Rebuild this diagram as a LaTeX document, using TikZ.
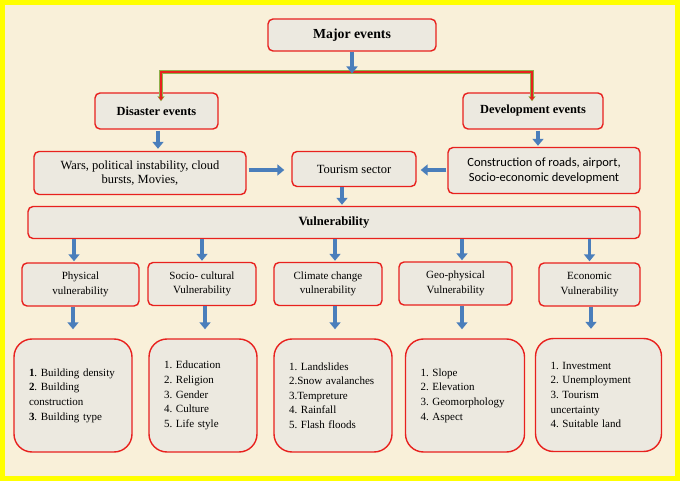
\documentclass[tikz,border=0pt]{standalone}
\usepackage{fontspec}
\setmainfont{Liberation Serif}
\newfontfamily\bodysans{Carlito}
\usetikzlibrary{arrows.meta}
\frenchspacing

\definecolor{boxred}{HTML}{E8211E}
\definecolor{boxfill}{HTML}{ECE9E0}
\definecolor{flowblue}{HTML}{4A7EBB}
\definecolor{paper}{HTML}{F9F0D9}
\definecolor{frameyellow}{HTML}{FFFF00}
\definecolor{bracketgreen}{HTML}{8DB04A}

\begin{document}
\begin{tikzpicture}[x=1pt, y=-1pt,
    box/.style={draw=boxred, line width=1.4pt, fill=boxfill, rounded corners=5pt,
      align=center, inner sep=2pt, font=\fontsize{12.5}{14}\selectfont},
    headbox/.style={box, font=\fontsize{12.4}{14}\selectfont\bfseries},
    kindbox/.style={box, minimum height=43pt, font=\fontsize{11}{14.5}\selectfont},
    listbox/.style={box, rounded corners=18pt, align=left, minimum height=113pt,
      inner xsep=15pt, font=\fontsize{11}{14.6}\selectfont},
    flow/.style={draw=flowblue, line width=3.4pt, -{Triangle[width=11pt,length=7pt]}},
  ]
  % page and frame
  \fill[paper] (0,0) rectangle (680,481);
  \draw[frameyellow, line width=5pt] (2.5,2.5) rectangle (677.5,478.5);
  \useasboundingbox (0,0) rectangle (680,481);

  % events
  \node[headbox, minimum width=168pt, minimum height=32pt, font=\fontsize{13.8}{15}\selectfont\bfseries] (major) at (352,35) {Major events};
  \node[headbox, minimum width=123pt, minimum height=36pt] (disaster) at (156.5,111) {Disaster events};
  \node[headbox, minimum width=140pt, minimum height=36pt] (develop) at (533,111) {Development events};
  \coordinate (split) at (352,72);

  \node[box, minimum width=212pt, minimum height=43pt] (wars) at (140,173) {Wars, political instability, cloud\\bursts, Movies,};
  \node[box, minimum width=124pt, minimum height=35pt] (tourism) at (354,169) {Tourism sector};
  \node[box, minimum width=192pt, minimum height=46pt, font=\bodysans\fontsize{12.5}{15}\selectfont] (constr) at (544,170.5) {Construction of roads, airport,\\Socio-economic development};

  \node[headbox, minimum width=612pt, minimum height=32pt, font=\fontsize{12.6}{14}\selectfont\bfseries] (vuln) at (334,222.5) {Vulnerability};

  % kinds of vulnerability
  \node[kindbox, minimum width=117pt] (phys) at (80.5,284.5) {Physical\\vulnerability};
  \node[kindbox, minimum width=108pt] (socio) at (202,284) {Socio- cultural\\Vulnerability};
  \node[kindbox, minimum width=108pt] (climate) at (328,284) {Climate change\\vulnerability};
  \node[kindbox, minimum width=113pt] (geo) at (455.5,283.5) {Geo-physical\\Vulnerability};
  \node[kindbox, minimum width=101pt] (econ) at (589.5,284.5) {Economic\\Vulnerability};

  % factors
  \node[listbox, text width=88pt] (physlist) at (73,395.5) {\textbf{1}. Building density\\\textbf{2}. Building\\construction\\\textbf{3}. Building type};
  \node[listbox, text width=78pt] (sociolist) at (203,395.5) {1. Education\\2. Religion\\3. Gender\\4. Culture\\5. Life style};
  \node[listbox, text width=88pt] (climatelist) at (333,395.5) {1. Landslides\\2.Snow avalanches\\3.Tempreture\\4. Rainfall\\5. Flash floods};
  \node[listbox, text width=89pt] (geolist) at (465,395.5) {1. Slope\\2. Elevation\\3. Geomorphology\\4. Aspect};
  \node[listbox, text width=96pt] (econlist) at (598.5,395) {1. Investment\\2. Unemployment\\3. Tourism\\uncertainty\\4. Suitable land};

  % bracket under major events
  \draw[bracketgreen, line width=4pt, -{Triangle[width=7pt,length=5pt]}] (split) -| ([xshift=4.5pt,yshift=-9pt]disaster.north);
  \draw[bracketgreen, line width=4pt, -{Triangle[width=7pt,length=5pt]}] (split) -| ([xshift=-1pt,yshift=-9pt]develop.north);
  \draw[boxred, line width=2.4pt, -{Triangle[width=4.5pt,length=3.5pt]}, shorten >=0.8pt] (split) -| ([xshift=4.5pt,yshift=-9pt]disaster.north);
  \draw[boxred, line width=2.4pt, -{Triangle[width=4.5pt,length=3.5pt]}, shorten >=0.8pt] (split) -| ([xshift=-1pt,yshift=-9pt]develop.north);

  \draw[flow] (major.south) -- ([yshift=-1.5pt]split);
  \draw[flow, shorten <=1pt, shorten >=2pt] ([xshift=1.5pt]disaster.south) -- ([xshift=1.5pt]disaster.south |- wars.north);
  \draw[flow, shorten <=1pt, shorten >=1pt] ([xshift=5pt]develop.south) -- ([xshift=5pt]develop.south |- constr.north);
  \draw[flow, shorten <=2pt, shorten >=7pt] (wars.east |- 0,170) -- (tourism.west |- 0,170);
  \draw[flow, shorten <=1pt, shorten >=4pt] (constr.west |- 0,170) -- (tourism.east |- 0,170);
  \draw[flow, shorten >=1pt] ([xshift=-12pt]tourism.south) -- ([xshift=-12pt]tourism.south |- vuln.north);

  \draw[flow, shorten >=1pt] (vuln.south -| 74,0) -- (phys.north -| 74,0);
  \draw[flow, shorten >=1pt] (vuln.south -| socio) -- (socio.north);
  \draw[flow, shorten >=1pt] (vuln.south -| 335,0) -- (climate.north -| 335,0);
  \draw[flow, shorten >=1pt] (vuln.south -| 462,0) -- (geo.north -| 462,0);
  \draw[flow, shorten >=1pt] (vuln.south -| econ) -- (econ.north);

  \draw[flow, shorten >=9pt] (phys.south -| physlist) -- (physlist.north);
  \draw[flow, shorten >=9pt] (socio.south -| 205,0) -- (sociolist.north -| 205,0);
  \draw[flow, shorten >=9pt] (climate.south -| 335,0) -- (climatelist.north -| 335,0);
  \draw[flow, shorten >=9pt] (geo.south -| 462,0) -- (geolist.north -| 462,0);
  \draw[flow, shorten >=9pt] (econ.south -| 591,0) -- (econlist.north -| 591,0);
\end{tikzpicture}
\end{document}
